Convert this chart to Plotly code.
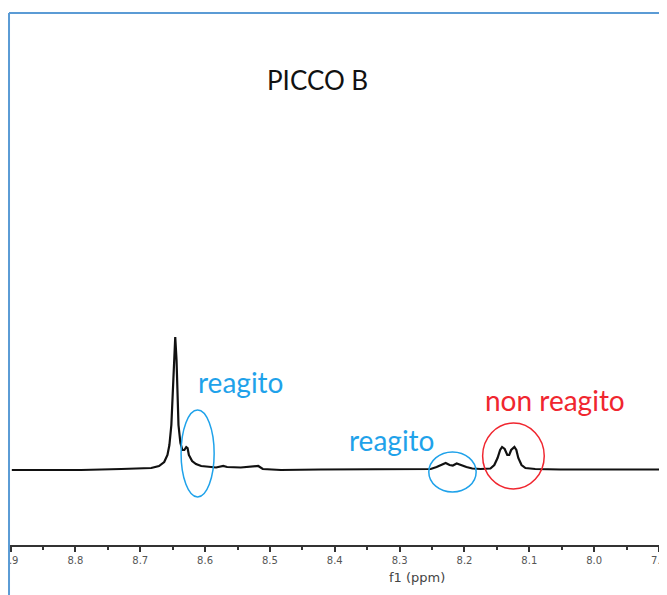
import plotly.graph_objects as go

# Spectrum: chemical shift (ppm) and intensity (arbitrary units, baseline = 0)
ppm = [8.898, 8.852, 8.791, 8.729, 8.683, 8.671, 8.663, 8.658, 8.655, 8.652, 8.650,
       8.648, 8.646, 8.644, 8.642, 8.641, 8.638, 8.635, 8.632, 8.629, 8.627, 8.625,
       8.620, 8.614, 8.606, 8.594, 8.583, 8.572, 8.566, 8.545, 8.529, 8.518, 8.511,
       8.483, 8.422, 8.360, 8.298, 8.252, 8.243, 8.235, 8.229, 8.223, 8.218, 8.212,
       8.206, 8.197, 8.188, 8.175, 8.160, 8.154, 8.149, 8.145, 8.142, 8.138, 8.134,
       8.131, 8.128, 8.123, 8.120, 8.117, 8.112, 8.106, 8.091, 8.052, 7.991, 7.929, 7.888]
intensity = [-1, -1, -1, 0, 1, 3, 7, 14, 24, 44, 69,
             104, 132, 109, 74, 44, 26, 19, 19, 22, 21, 14,
             8, 5, 3, 2, 1.5, 3, 2, 1.5, 2, 3, 0,
             -1, -0.5, -0.5, 0, 0, 2, 4, 6, 4, 3.5, 5.5,
             4, 2, 0.5, 0, 0.5, 4, 11, 19, 22, 20, 14,
             14, 19, 22, 19, 11, 4, 1, 0, -0.5, -0.5, -0.5, -0.5]

tick_vals = [8.9, 8.8, 8.7, 8.6, 8.5, 8.4, 8.3, 8.2, 8.1, 8.0, 7.9]
tick_text = ["8.9", "8.8", "8.7", "8.6", "8.5", "8.4", "8.3", "8.2", "8.1", "8.0", "7.9"]

title_text = "PICCO B"
axis_title = "f1 (ppm)"
label_reacted = "reagito"
label_unreacted = "non reagito"

BLUE = "#1FA2EA"
RED = "#F0262F"

fig = go.Figure()
fig.add_trace(go.Scatter(x=ppm, y=intensity, mode="lines",
                         line=dict(color="#111111", width=2.2), hoverinfo="skip",
                         showlegend=False))

# annotations (ellipses around peaks)
fig.add_shape(type="circle", xref="x", yref="y", x0=8.637, x1=8.586, y0=-28, y1=59,
              line=dict(color=BLUE, width=1.5))
fig.add_shape(type="circle", xref="x", yref="y", x0=8.255, x1=8.182, y0=-23, y1=17,
              line=dict(color=BLUE, width=1.5))
fig.add_shape(type="circle", xref="x", yref="y", x0=8.172, x1=8.077, y0=-20, y1=46,
              line=dict(color=RED, width=1.5))

# crop-like frame on the left/top
fig.add_shape(type="rect", xref="paper", yref="paper", x0=-0.03, x1=-0.0015,
              y0=-0.12, y1=1.0, fillcolor="white", line=dict(width=0), layer="above")
fig.add_shape(type="line", xref="paper", yref="paper", x0=-0.0015, x1=1.0, y0=1.0, y1=1.0,
              line=dict(color="#5B9BD5", width=2), layer="above")
fig.add_shape(type="line", xref="paper", yref="paper", x0=-0.0015, x1=-0.0015, y0=-0.12, y1=1.0,
              line=dict(color="#5B9BD5", width=2), layer="above")

FONT = "Lato, Open Sans, sans-serif"
fig.add_annotation(x=8.427, y=389, text=title_text, showarrow=False,
                   font=dict(family=FONT, size=26, color="#111111"))
fig.add_annotation(x=8.545, y=87, text=label_reacted, showarrow=False,
                   font=dict(family=FONT, size=28, color=BLUE))
fig.add_annotation(x=8.312, y=29, text=label_reacted, showarrow=False,
                   font=dict(family=FONT, size=28, color=BLUE))
fig.add_annotation(x=8.060, y=69, text=label_unreacted, showarrow=False,
                   font=dict(family=FONT, size=28, color=RED))
# axis title (centred on the full, uncropped axis as in the source)
fig.add_annotation(x=0.6195, y=-0.062, xref="paper", yref="paper", text=axis_title,
                   xanchor="center", yanchor="middle",
                   showarrow=False, font=dict(family="DejaVu Sans", size=13, color="#444444"))

fig.update_layout(
    width=659, height=587,
    margin=dict(l=2, r=0, t=5, b=50, autoexpand=False),
    paper_bgcolor="white", plot_bgcolor="white",
    xaxis=dict(range=[8.9008, 7.8877], tickvals=tick_vals, ticktext=tick_text,
               ticks="outside", ticklen=5, tickwidth=1.5, tickcolor="#333333",
               showline=True, linecolor="#333333", linewidth=2, automargin=False,
               showgrid=False, zeroline=False, ticklabeloverflow="allow",
               tickfont=dict(family="DejaVu Sans", size=10, color="#555555"),
               minor=dict(dtick=0.05, ticks="outside", ticklen=3, tickcolor="#333333",
                          tickwidth=1.5, showgrid=False)),
    yaxis=dict(range=[-76, 456], visible=False),
)

fig.write_html("out.html")
